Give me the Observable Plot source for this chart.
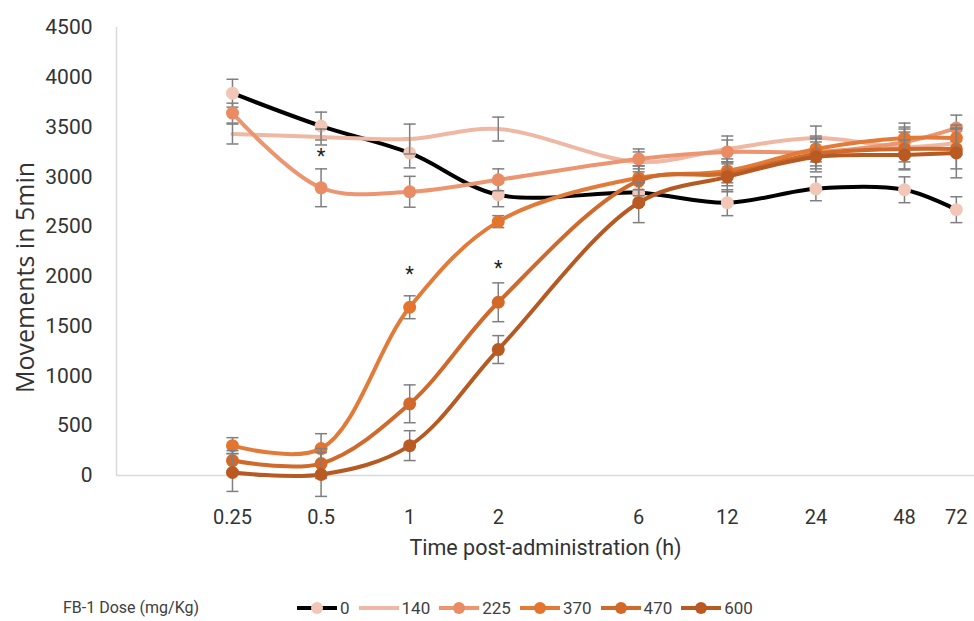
<!DOCTYPE html>
<html>
<head>
<meta charset="utf-8">
<script src="https://cdn.jsdelivr.net/npm/d3@7"></script>
<script src="https://cdn.jsdelivr.net/npm/@observablehq/plot@0.6"></script>
<style>
  html, body { margin: 0; padding: 0; background: #fff; }
  #wrap { width: 974px; font-family: Roboto, "Liberation Sans", sans-serif; }
  #legend { position: relative; height: 36px; font-size: 17px; color: #404040; }
  #legend .title { position: absolute; left: 63px; top: 13px; line-height: 20px; font-size: 16px; }
  #legend .items { position: absolute; left: 297px; top: 13px; display: flex; gap: 9px; line-height: 20px; }
  #legend .item { display: flex; align-items: center; }
  #legend .item span { margin-left: 3px; }
</style>
</head>
<body>
<div id="wrap">
  <div id="chart"></div>
  <div id="legend"></div>
</div>
<script>
// ---- data ----
const times = [0.25, 0.5, 1, 2, 6, 12, 24, 48, 72];
const timeLabels = ["0.25", "0.5", "1", "2", "6", "12", "24", "48", "72"];
const doses = ["0", "140", "225", "370", "470", "600"];

const mean0   = [3840, 3510, 3240, 2820, 2840, 2740, 2880, 2870, 2670];
const mean140 = [3430, 3400, 3380, 3480, 3150, 3280, 3390, 3300, 3340];
const mean225 = [3640, 2890, 2850, 2970, 3180, 3250, 3250, 3350, 3490];
const mean370 = [300, 270, 1690, 2550, 2990, 3060, 3280, 3390, 3390];
const mean470 = [150, 120, 720, 1740, 2960, 3030, 3230, 3280, 3280];
const mean600 = [30, 10, 300, 1265, 2740, 3000, 3200, 3220, 3240];

const err0   = [140, 140, 150, 120, 120, 130, 120, 130, 130];
const err140 = [100, 80, 150, 120, 100, 130, 120, 150, 120];
const err225 = [100, 190, 155, 110, 100, 120, 140, 150, 130];
const err370 = [80, 150, 115, 60, 120, 120, 130, 150, 130];
const err470 = [100, 150, 190, 195, 150, 120, 150, 200, 200];
const err600 = [190, 220, 150, 140, 200, 150, 150, 150, 250];

const starTimes = [0.5, 1, 2];
const starValues = [3200, 2020, 2080];

const lineColors   = ["#000000", "#efb8a4", "#eb9670", "#e27a38", "#d06a2c", "#b65a24"];
const markerColors = ["#f3c7b8", null, "#ea8c63", "#e3752f", "#d2682a", "#b85a22"];

const yTicks = [0, 500, 1000, 1500, 2000, 2500, 3000, 3500, 4000, 4500];
const yTitle = "Movements in 5min";
const xTitle = "Time post-administration (h)";
const legendTitle = "FB-1 Dose (mg/Kg)";

// ---- build tables ----
const means = [mean0, mean140, mean225, mean370, mean470, mean600];
const errs = [err0, err140, err225, err370, err470, err600];
const series = doses.map((dose, i) => ({
  dose,
  line: lineColors[i],
  marker: markerColors[i],
  rows: times.map((t, j) => ({ t, v: means[i][j], e: errs[i][j], dose }))
}));
const stars = starTimes.map((t, i) => ({ t, v: starValues[i] }));
const xTickRows = times.map((t, i) => ({ t, label: timeLabels[i] }));

const capSymbol = {
  draw(context) { context.moveTo(-6, 0); context.lineTo(6, 0); }
};
const errColor = "#7f7f7f";
const textColor = "#333";

const marks = [
  Plot.ruleY([0], { stroke: "#d9d9d9", strokeWidth: 1.5 }),
  Plot.ruleX([0.1009], { y1: 0, y2: 4500, stroke: "#d9d9d9", strokeWidth: 1.5 })
];
for (const s of series) {
  marks.push(Plot.line(s.rows, { x: "t", y: "v", stroke: s.line, strokeWidth: 4, curve: "catmull-rom" }));
  marks.push(Plot.ruleX(s.rows, { x: "t", y1: d => d.v - d.e, y2: d => d.v + d.e, stroke: errColor, strokeWidth: 1.5 }));
  marks.push(Plot.dot(s.rows, { x: "t", y: d => d.v - d.e, symbol: capSymbol, fill: "none", stroke: errColor, strokeWidth: 1.5 }));
  marks.push(Plot.dot(s.rows, { x: "t", y: d => d.v + d.e, symbol: capSymbol, fill: "none", stroke: errColor, strokeWidth: 1.5 }));
  if (s.marker) {
    marks.push(Plot.dot(s.rows, { x: "t", y: "v", r: 6.5, fill: s.marker, stroke: "none" }));
  }
}
marks.push(Plot.text(stars, { x: "t", y: "v", text: () => "*", fontSize: 20, fill: "#222" }));
// x tick labels (explicit, one per measured time)
marks.push(Plot.text(xTickRows, { x: "t", frameAnchor: "bottom", dy: 48, text: "label", fontSize: 20, fill: textColor }));
marks.push(Plot.axisY({ ticks: yTicks, tickSize: 0, tickPadding: 24, fontSize: 21, label: null, fill: textColor, tickFormat: d => String(d) }));
marks.push(Plot.text([xTitle], { frameAnchor: "bottom", dy: 79, fontSize: 21.5, fill: textColor, text: d => d }));
marks.push(Plot.text([yTitle], { frameAnchor: "left", textAnchor: "middle", dx: -91, dy: 26, rotate: -90, fontSize: 25, fill: textColor, fontFamily: "Open Sans", text: d => d }));

const chart = Plot.plot({
  width: 974,
  height: 585,
  marginTop: 27,
  marginBottom: 110,
  marginLeft: 116,
  marginRight: 0,
  style: { fontFamily: "Roboto, 'Liberation Sans', sans-serif", background: "#fff", overflow: "visible" },
  x: { type: "log", domain: [0.1009, 83], axis: null },
  y: { domain: [0, 4500] },
  marks
});
document.getElementById("chart").appendChild(chart);

// ---- legend ----
const legend = document.getElementById("legend");
const lt = document.createElement("div");
lt.className = "title";
lt.textContent = legendTitle;
legend.appendChild(lt);
const items = document.createElement("div");
items.className = "items";
for (const s of series) {
  const it = document.createElement("div");
  it.className = "item";
  const ns = "http://www.w3.org/2000/svg";
  const svg = document.createElementNS(ns, "svg");
  svg.setAttribute("width", 40);
  svg.setAttribute("height", 14);
  const ln = document.createElementNS(ns, "line");
  ln.setAttribute("x1", 0); ln.setAttribute("x2", 40);
  ln.setAttribute("y1", 7); ln.setAttribute("y2", 7);
  ln.setAttribute("stroke", s.line); ln.setAttribute("stroke-width", 4);
  svg.appendChild(ln);
  if (s.marker) {
    const c = document.createElementNS(ns, "circle");
    c.setAttribute("cx", 20); c.setAttribute("cy", 7); c.setAttribute("r", 6);
    c.setAttribute("fill", s.marker);
    svg.appendChild(c);
  }
  it.appendChild(svg);
  const sp = document.createElement("span");
  sp.textContent = s.dose;
  it.appendChild(sp);
  items.appendChild(it);
}
legend.appendChild(items);
</script>
</body>
</html>
